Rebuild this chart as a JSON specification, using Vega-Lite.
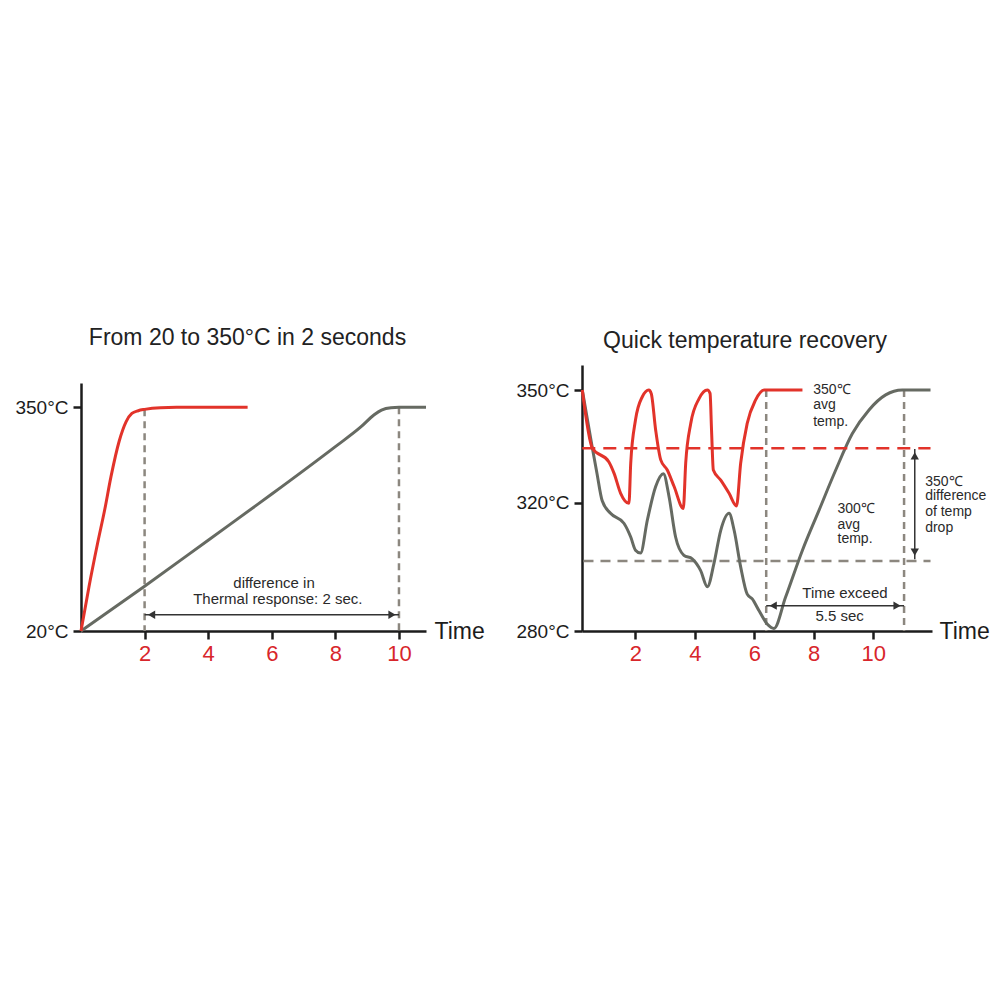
{
  "$schema": "https://vega.github.io/schema/vega-lite/v6.json",
  "background": "white",
  "padding": {"left": 14, "top": 327, "right": 5, "bottom": 5},
  "spacing": 30,
  "config": {
    "view": {"stroke": null},
    "font": "Liberation Sans",
    "title": {"fontSize": 23, "fontWeight": "normal", "color": "#222222", "font": "Liberation Sans"},
    "axis": {"domainColor": "#1c1c1c", "domainWidth": 2.5, "tickColor": "#1c1c1c", "tickWidth": 2.5, "tickSize": 8, "grid": false, "labelFont": "Liberation Sans", "titleFont": "Liberation Sans", "titleFontWeight": "normal"},
    "axisX": {"labelColor": "#d8262b", "labelFontSize": 22, "labelPadding": 4, "titleFontSize": 23, "titleColor": "#1c1c1c"},
    "axisY": {"labelColor": "#1c1c1c", "labelFontSize": 19, "labelPadding": 5}
  },
  "datasets": {
    "leftRed": [
      {"t": 0, "temp": 20}, {"t": 0.25, "temp": 85}, {"t": 0.52, "temp": 149}, {"t": 0.75, "temp": 200},
      {"t": 0.94, "temp": 247}, {"t": 1.2, "temp": 300}, {"t": 1.42, "temp": 329}, {"t": 1.6, "temp": 341},
      {"t": 1.8, "temp": 345}, {"t": 2, "temp": 347}, {"t": 2.5, "temp": 349.5}, {"t": 3, "temp": 350}, {"t": 5.24, "temp": 350}
    ],
    "leftGray": [
      {"t": 0, "temp": 20}, {"t": 2, "temp": 86}, {"t": 4, "temp": 154}, {"t": 6, "temp": 222}, {"t": 8, "temp": 292},
      {"t": 8.8, "temp": 321}, {"t": 9.22, "temp": 339}, {"t": 9.45, "temp": 346}, {"t": 9.75, "temp": 349.5},
      {"t": 10, "temp": 350}, {"t": 10.85, "temp": 350}
    ],
    "leftDash": [
      {"t": 2, "temp": 347, "temp2": 20}, {"t": 10, "temp": 350, "temp2": 20}
    ],
    "leftArrow": [
      {"t": 2, "t2": 10, "temp": 44}
    ],
    "leftHeads": [
      {"t": 2, "temp": 44, "dir": "L"}, {"t": 10, "temp": 44, "dir": "R"}
    ],
    "leftText": [
      {"t": 6.07, "temp": 91, "label": "difference in"},
      {"t": 6.19, "temp": 66.5, "label": "Thermal response: 2 sec."}
    ],
    "rightRed": [
      {"t": 0.21, "temp": 350}, {"t": 0.55, "temp": 334.5}, {"t": 1.1, "temp": 330.9}, {"t": 1.28, "temp": 327.8},
      {"t": 1.5, "temp": 322.5}, {"t": 1.78, "temp": 319.8}, {"t": 1.84, "temp": 330.5}, {"t": 2.0, "temp": 342},
      {"t": 2.23, "temp": 348.2}, {"t": 2.45, "temp": 350}, {"t": 2.53, "temp": 349.1}, {"t": 2.68, "temp": 339.3},
      {"t": 2.85, "temp": 331.4}, {"t": 3.07, "temp": 328.7}, {"t": 3.3, "temp": 324.3}, {"t": 3.61, "temp": 318.2},
      {"t": 3.69, "temp": 330.5}, {"t": 3.86, "temp": 341.1}, {"t": 4.14, "temp": 347.7}, {"t": 4.42, "temp": 350},
      {"t": 4.51, "temp": 349.1}, {"t": 4.56, "temp": 339.3}, {"t": 4.62, "temp": 328.7}, {"t": 4.87, "temp": 326},
      {"t": 5.15, "temp": 322.5}, {"t": 5.4, "temp": 319}, {"t": 5.54, "temp": 330.5}, {"t": 5.76, "temp": 341.1},
      {"t": 6.04, "temp": 347.3}, {"t": 6.33, "temp": 350}, {"t": 7.62, "temp": 350}
    ],
    "rightGray": [
      {"t": 0.21, "temp": 350}, {"t": 0.55, "temp": 334.5}, {"t": 0.7, "temp": 328}, {"t": 0.88, "temp": 320.5},
      {"t": 1.16, "temp": 316.7}, {"t": 1.61, "temp": 313.6}, {"t": 1.84, "temp": 309.3}, {"t": 2.0, "temp": 305.2},
      {"t": 2.17, "temp": 304.3}, {"t": 2.4, "temp": 314.6}, {"t": 2.68, "temp": 324.3}, {"t": 2.94, "temp": 327.7},
      {"t": 3.13, "temp": 321.6}, {"t": 3.35, "temp": 309.3}, {"t": 3.63, "temp": 303.6}, {"t": 3.91, "temp": 302.5},
      {"t": 4.19, "temp": 298.9}, {"t": 4.42, "temp": 293.8}, {"t": 4.64, "temp": 301}, {"t": 4.87, "temp": 311.4},
      {"t": 5.15, "temp": 316.7}, {"t": 5.32, "temp": 311.4}, {"t": 5.54, "temp": 300}, {"t": 5.76, "temp": 291.5},
      {"t": 5.93, "temp": 290}, {"t": 6.16, "temp": 286.3}, {"t": 6.44, "temp": 282.1}, {"t": 6.66, "temp": 280.8},
      {"t": 7.05, "temp": 290.5}, {"t": 7.62, "temp": 305.2}, {"t": 8.18, "temp": 317.7}, {"t": 8.74, "temp": 328.7},
      {"t": 9.3, "temp": 338.4}, {"t": 9.86, "temp": 344.7}, {"t": 10.42, "temp": 348.7}, {"t": 10.98, "temp": 350},
      {"t": 11.93, "temp": 350}
    ],
    "rightDash": [
      {"t": 6.4, "temp": 350, "temp2": 280}, {"t": 11.04, "temp": 350, "temp2": 280}
    ],
    "rightAvgGray": [
      {"t": 0.25, "t2": 11.93, "temp": 301.8}
    ],
    "rightAvgRed": [
      {"t": 0.21, "t2": 11.93, "temp": 334.5}
    ],
    "rightArrowH": [
      {"t": 6.4, "t2": 11.04, "temp": 287.9}
    ],
    "rightArrowV": [
      {"t": 11.4, "temp": 334.3, "temp2": 302.4}
    ],
    "rightHeads": [
      {"t": 6.4, "temp": 287.9, "dir": "L"}, {"t": 11.04, "temp": 287.9, "dir": "R"},
      {"t": 11.4, "temp": 334.3, "dir": "U"}, {"t": 11.4, "temp": 302.4, "dir": "D"}
    ],
    "rightTextLeft": [
      {"t": 7.98, "temp": 349.9, "label": "350℃"},
      {"t": 7.98, "temp": 345.9, "label": "avg"},
      {"t": 7.98, "temp": 341.6, "label": "temp."},
      {"t": 8.8, "temp": 318.0, "label": "300℃"},
      {"t": 8.8, "temp": 313.2, "label": "avg"},
      {"t": 8.8, "temp": 308.6, "label": "temp."},
      {"t": 11.75, "temp": 325.6, "label": "350℃"},
      {"t": 11.75, "temp": 321.7, "label": "difference"},
      {"t": 11.75, "temp": 317.0, "label": "of temp"},
      {"t": 11.75, "temp": 312.2, "label": "drop"}
    ],
    "rightTextCenter": [
      {"t": 9.05, "temp": 291.7, "label": "Time exceed"},
      {"t": 8.87, "temp": 284.7, "label": "5.5 sec"}
    ]
  },
  "hconcat": [
    {
      "width": 345,
      "height": 266,
      "title": {"text": "From 20 to 350°C in 2 seconds", "offset": 15, "dx": -6},
      "encoding": {
        "x": {"field": "t", "type": "quantitative", "scale": {"domain": [0, 10.85], "nice": false, "zero": false},
              "axis": {"values": [2, 4, 6, 8, 10], "title": "Time", "titleX": 353, "titleY": 0, "titleAlign": "left", "titleBaseline": "middle", "titleAnchor": "start"}},
        "y": {"field": "temp", "type": "quantitative", "scale": {"domain": [20, 385.9], "range": [266, 18], "nice": false, "zero": false},
              "axis": {"values": [20, 350], "labelExpr": "datum.value + '°C'", "title": null}}
      },
      "layer": [
        {"data": {"name": "leftDash"}, "mark": {"type": "rule", "color": "#8c877f", "strokeWidth": 2.5, "strokeDash": [7, 5]},
         "encoding": {"y2": {"field": "temp2"}}},
        {"data": {"name": "leftGray"}, "mark": {"type": "line", "color": "#666a62", "strokeWidth": 3, "interpolate": "monotone"}, "encoding": {}},
        {"data": {"name": "leftRed"}, "mark": {"type": "line", "color": "#e2332a", "strokeWidth": 3, "interpolate": "monotone"}, "encoding": {}},
        {"data": {"name": "leftArrow"}, "mark": {"type": "rule", "color": "#333333", "strokeWidth": 1.5},
         "encoding": {"x2": {"field": "t2"}}},
        {"data": {"name": "leftHeads"}, "transform": [{"filter": "datum.dir === 'L'"}],
         "mark": {"type": "point", "shape": "triangle-left", "filled": true, "color": "#333333", "opacity": 1, "size": 70, "xOffset": 7}, "encoding": {}},
        {"data": {"name": "leftHeads"}, "transform": [{"filter": "datum.dir === 'R'"}],
         "mark": {"type": "point", "shape": "triangle-right", "filled": true, "color": "#333333", "opacity": 1, "size": 70, "xOffset": -7}, "encoding": {}},
        {"data": {"name": "leftText"}, "mark": {"type": "text", "fontSize": 15, "color": "#2a2a2a", "align": "center", "baseline": "middle"},
         "encoding": {"text": {"field": "label"}}}
      ]
    },
    {
      "width": 350,
      "height": 266,
      "title": {"text": "Quick temperature recovery", "offset": 12, "dx": -12},
      "encoding": {
        "x": {"field": "t", "type": "quantitative", "scale": {"domain": [0.2, 11.98], "nice": false, "zero": false},
              "axis": {"values": [2, 4, 6, 8, 10], "title": "Time", "titleX": 357, "titleY": 0, "titleAlign": "left", "titleBaseline": "middle", "titleAnchor": "start"}},
        "y": {"field": "temp", "type": "quantitative", "scale": {"domain": [280, 320, 350, 356.65], "range": [266, 137.7, 25, 0], "nice": false, "zero": false},
              "axis": {"values": [280, 320, 350], "labelExpr": "datum.value + '°C'", "title": null}}
      },
      "layer": [
        {"data": {"name": "rightDash"}, "mark": {"type": "rule", "color": "#8c877f", "strokeWidth": 2.5, "strokeDash": [7, 5]},
         "encoding": {"y2": {"field": "temp2"}}},
        {"data": {"name": "rightAvgGray"}, "mark": {"type": "rule", "color": "#8c877f", "strokeWidth": 2.5, "strokeDash": [10, 7]},
         "encoding": {"x2": {"field": "t2"}}},
        {"data": {"name": "rightGray"}, "mark": {"type": "line", "color": "#666a62", "strokeWidth": 3, "interpolate": "monotone"}, "encoding": {}},
        {"data": {"name": "rightAvgRed"}, "mark": {"type": "rule", "color": "#e2332a", "strokeWidth": 2.5, "strokeDash": [13, 8]},
         "encoding": {"x2": {"field": "t2"}}},
        {"data": {"name": "rightRed"}, "mark": {"type": "line", "color": "#e2332a", "strokeWidth": 3, "interpolate": "monotone"}, "encoding": {}},
        {"data": {"name": "rightArrowH"}, "mark": {"type": "rule", "color": "#333333", "strokeWidth": 1.5},
         "encoding": {"x2": {"field": "t2"}}},
        {"data": {"name": "rightArrowV"}, "mark": {"type": "rule", "color": "#333333", "strokeWidth": 1.5},
         "encoding": {"y2": {"field": "temp2"}}},
        {"data": {"name": "rightHeads"}, "transform": [{"filter": "datum.dir === 'L'"}],
         "mark": {"type": "point", "shape": "triangle-left", "filled": true, "color": "#333333", "opacity": 1, "size": 70, "xOffset": 7}, "encoding": {}},
        {"data": {"name": "rightHeads"}, "transform": [{"filter": "datum.dir === 'R'"}],
         "mark": {"type": "point", "shape": "triangle-right", "filled": true, "color": "#333333", "opacity": 1, "size": 70, "xOffset": -7}, "encoding": {}},
        {"data": {"name": "rightHeads"}, "transform": [{"filter": "datum.dir === 'U'"}],
         "mark": {"type": "point", "shape": "triangle-up", "filled": true, "color": "#333333", "opacity": 1, "size": 70, "yOffset": 7}, "encoding": {}},
        {"data": {"name": "rightHeads"}, "transform": [{"filter": "datum.dir === 'D'"}],
         "mark": {"type": "point", "shape": "triangle-down", "filled": true, "color": "#333333", "opacity": 1, "size": 70, "yOffset": -7}, "encoding": {}},
        {"data": {"name": "rightTextLeft"}, "mark": {"type": "text", "fontSize": 14, "color": "#2a2a2a", "align": "left", "baseline": "middle"},
         "encoding": {"text": {"field": "label"}}},
        {"data": {"name": "rightTextCenter"}, "mark": {"type": "text", "fontSize": 15, "color": "#2a2a2a", "align": "center", "baseline": "middle"},
         "encoding": {"text": {"field": "label"}}}
      ]
    }
  ]
}
